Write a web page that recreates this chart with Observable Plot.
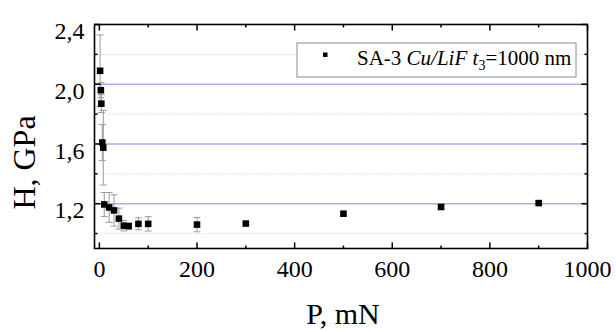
<!DOCTYPE html>
<html><head><meta charset="utf-8">
<script src="https://cdn.jsdelivr.net/npm/d3@7"></script>
<script src="https://cdn.jsdelivr.net/npm/@observablehq/plot@0.6"></script>
<style>body{margin:0;background:#fff}</style>
</head><body><div id="chart"></div>
<script>
const P = [1.5, 3, 4, 6, 8, 10, 20, 30, 40, 50, 60, 80, 100, 200, 300, 500, 700, 900];
const H = [2.09, 1.96, 1.87, 1.61, 1.575, 1.195, 1.175, 1.155, 1.10, 1.053, 1.05, 1.065, 1.065, 1.06, 1.067, 1.133, 1.178, 1.204];
const Herr = [0.24, 0.05, 0.06, 0.12, 0.25, 0.08, 0.10, 0.105, 0.07, 0.035, 0.02, 0.04, 0.048, 0.048, 0.01, 0.01, 0.01, 0.01];
const xMajor = [0, 200, 400, 600, 800, 1000];
const xMinor = [100, 300, 500, 700, 900];
const yMajor = [1.2, 1.6, 2.0, 2.4];
const yMinor = [1.0, 1.4, 1.8, 2.2];
const yLabels = ["1,2", "1,6", "2,0", "2,4"];
const blueGrid = [1.2, 1.6, 2.0];
const xTitle = "P, mN";
const yTitle = "H, GPa";
const legendLabel = {pre: "SA-3 ", ital: "Cu/LiF t", sub: "3", post: "=1000 nm"};

const data = P.map((p, i) => ({P: p, H: H[i], e: Herr[i]}));
const font = "'Liberation Serif', 'Times New Roman', serif";

function lineSym(dx, dy) {
  return {draw(ctx) { ctx.moveTo(0, 0); ctx.lineTo(dx, dy); }};
}
const capSym = {draw(ctx) { ctx.moveTo(-3.5, 0); ctx.lineTo(3.5, 0); }};

const chart = Plot.plot({
  width: 616, height: 332,
  marginLeft: 94, marginRight: 29, marginTop: 24, marginBottom: 84,
  x: {domain: [-10, 1000], axis: null},
  y: {domain: [0.9, 2.4], axis: null},
  style: {fontFamily: font, background: "white"},
  marks: [
    Plot.ruleY(yMinor, {stroke: "#bfeebf", strokeWidth: 1, strokeDasharray: "1.5,1.5"}),
    Plot.ruleY(blueGrid, {stroke: "#ababf2", strokeWidth: 1.4}),
    Plot.ruleX(data, {x: "P", y1: d => d.H - d.e, y2: d => d.H + d.e, stroke: "#9a9a9a", strokeWidth: 1}),
    Plot.dot(data, {x: "P", y: d => d.H + d.e, symbol: capSym, stroke: "#9a9a9a", fill: "none", strokeWidth: 1}),
    Plot.dot(data, {x: "P", y: d => d.H - d.e, symbol: capSym, stroke: "#9a9a9a", fill: "none", strokeWidth: 1}),
    Plot.dot(data, {x: "P", y: "H", symbol: "square", r: 3.7, fill: "black", stroke: "none"}),
    // inward ticks
    Plot.dot(xMajor, {x: d => d, frameAnchor: "bottom", symbol: lineSym(0, -6), stroke: "black", strokeWidth: 1.5}),
    Plot.dot(xMinor, {x: d => d, frameAnchor: "bottom", symbol: lineSym(0, -3), stroke: "black", strokeWidth: 1.5}),
    Plot.dot(xMajor, {x: d => d, frameAnchor: "top", symbol: lineSym(0, 6), stroke: "black", strokeWidth: 1.5}),
    Plot.dot(xMinor, {x: d => d, frameAnchor: "top", symbol: lineSym(0, 3), stroke: "black", strokeWidth: 1.5}),
    Plot.dot(yMajor, {y: d => d, frameAnchor: "left", symbol: lineSym(6, 0), stroke: "black", strokeWidth: 1.5}),
    Plot.dot(yMinor, {y: d => d, frameAnchor: "left", symbol: lineSym(3, 0), stroke: "black", strokeWidth: 1.5}),
    Plot.dot(yMajor, {y: d => d, frameAnchor: "right", symbol: lineSym(-6, 0), stroke: "black", strokeWidth: 1.5}),
    Plot.dot(yMinor, {y: d => d, frameAnchor: "right", symbol: lineSym(-3, 0), stroke: "black", strokeWidth: 1.5}),
    Plot.frame({stroke: "black", strokeWidth: 1.6}),
    // tick labels
    Plot.text(xMajor, {x: d => d, text: d => String(d), frameAnchor: "bottom", dy: 28, fontSize: 24, fill: "black"}),
    Plot.text(yMajor, {y: d => d, text: (d, i) => yLabels[i], frameAnchor: "left", textAnchor: "end", dx: -10, dy: 7, fontSize: 24, fill: "black"})
  ]
});
document.getElementById("chart").appendChild(chart);

const svg = d3.select(chart);
// axis titles
svg.append("text").attr("x", 343).attr("y", 324).attr("text-anchor", "middle")
  .attr("font-family", font).attr("font-size", 30).attr("fill", "black").text(xTitle);
svg.append("text").attr("transform", "translate(35,162.5) rotate(-90)").attr("text-anchor", "middle")
  .attr("font-family", font).attr("font-size", 32).attr("fill", "black").text(yTitle);

// legend box
const g = svg.append("g").attr("text-anchor", "start");
g.append("rect").attr("x", 297).attr("y", 43).attr("width", 279).attr("height", 34)
  .attr("fill", "white").attr("stroke", "#8c8c8c").attr("stroke-width", 1);
g.append("rect").attr("x", 323).attr("y", 52.5).attr("width", 4.5).attr("height", 4.5).attr("fill", "black");
const t = g.append("text").attr("x", 357).attr("y", 65).attr("text-anchor", "start")
  .attr("font-family", font).attr("font-size", 21).attr("fill", "black");
t.append("tspan").text(legendLabel.pre);
t.append("tspan").attr("font-style", "italic").text(legendLabel.ital);
t.append("tspan").attr("font-size", 14).attr("dy", 5).text(legendLabel.sub);
t.append("tspan").attr("dy", -5).text(legendLabel.post);
</script>
</body></html>
